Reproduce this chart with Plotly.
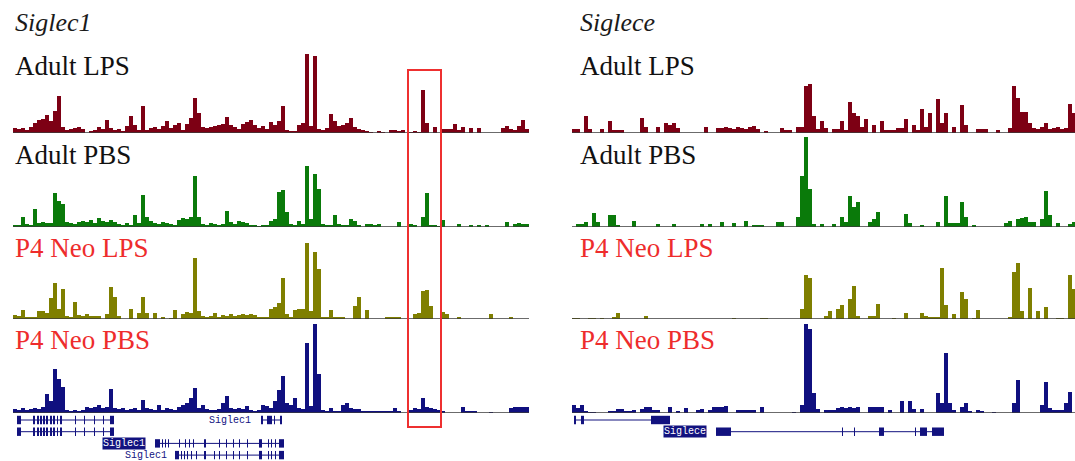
import plotly.graph_objects as go

W, H = 1075, 461
BIN = 4  # genomic units per bin

TRACK_NAMES = ["Adult LPS", "Adult PBS", "P4 Neo LPS", "P4 Neo PBS"]
TRACK_COLORS = ["#7d0014", "#0a7a0a", "#7f7f00", "#10107f"]
LABEL_COLORS = ["#111111", "#111111", "#ee2c2c", "#ee2c2c"]
PANEL_TITLES = ["Siglec1", "Siglece"]

# ---- signal tracks, Siglec1 locus (129 bins) ----
siglec1_adult_lps = [5, 4, 5, 3, 6, 10, 13, 14, 18, 12, 22, 37,
                     6, 3, 4, 5, 6, 4, 0, 2, 3, 6, 4, 13,
                     5, 3, 4, 2, 7, 17, 8, 3, 27, 3, 5, 6,
                     4, 7, 12, 5, 8, 10, 3, 9, 15, 35, 20, 6,
                     5, 6, 7, 8, 9, 16, 8, 6, 4, 9, 11, 13,
                     8, 5, 7, 4, 11, 8, 12, 27, 3, 2, 2, 8,
                     10, 79, 7, 77, 4, 3, 5, 19, 12, 7, 8, 10,
                     15, 6, 4, 3, 2, 1, 0, 2, 1, 0, 3, 3,
                     2, 3, 0, 1, 2, 1, 43, 10, 0, 6, 0, 4,
                     4, 4, 9, 3, 6, 0, 5, 0, 5, 0, 0, 0,
                     0, 0, 5, 7, 4, 3, 7, 13, 4]
siglec1_adult_pbs = [2, 2, 10, 3, 2, 18, 4, 5, 4, 4, 34, 26,
                     23, 5, 4, 3, 5, 6, 5, 7, 4, 9, 6, 5,
                     7, 5, 3, 2, 4, 2, 12, 4, 32, 10, 6, 4,
                     3, 5, 4, 3, 2, 7, 9, 8, 10, 51, 10, 3,
                     2, 4, 3, 2, 3, 16, 5, 3, 6, 5, 4, 2,
                     2, 1, 2, 2, 6, 8, 35, 37, 15, 3, 2, 6,
                     3, 61, 8, 53, 38, 3, 2, 2, 12, 3, 2, 2,
                     8, 6, 2, 0, 3, 3, 2, 3, 0, 0, 0, 0,
                     5, 0, 0, 3, 2, 0, 10, 34, 2, 2, 1, 7,
                     0, 0, 0, 3, 0, 0, 2, 0, 2, 0, 2, 0,
                     0, 0, 0, 5, 0, 3, 4, 3, 3]
siglec1_p4_lps = [4, 3, 9, 2, 2, 2, 8, 8, 6, 21, 36, 10,
                  30, 3, 2, 17, 4, 3, 5, 3, 3, 3, 0, 5,
                  32, 22, 3, 0, 0, 10, 0, 6, 22, 6, 0, 6,
                  0, 2, 0, 1, 9, 0, 5, 7, 6, 61, 8, 3,
                  2, 3, 6, 2, 4, 3, 5, 3, 4, 5, 4, 5,
                  4, 2, 2, 2, 10, 12, 16, 41, 5, 2, 9, 10,
                  10, 76, 8, 67, 50, 2, 2, 9, 2, 2, 2, 0,
                  0, 13, 22, 0, 9, 0, 0, 0, 0, 2, 2, 2,
                  2, 0, 0, 0, 5, 6, 28, 29, 13, 0, 0, 7,
                  5, 0, 0, 2, 0, 0, 0, 0, 0, 0, 0, 5,
                  0, 0, 0, 0, 2, 0, 0, 0, 0]
siglec1_p4_pbs = [4, 3, 5, 3, 4, 5, 4, 6, 19, 12, 44, 34,
                  26, 3, 2, 3, 2, 3, 6, 5, 6, 8, 5, 6,
                  24, 5, 4, 5, 3, 4, 5, 3, 13, 5, 4, 3,
                  8, 3, 5, 4, 3, 6, 8, 10, 15, 25, 5, 8,
                  4, 3, 3, 4, 10, 17, 5, 4, 5, 4, 7, 3,
                  2, 3, 8, 7, 5, 12, 23, 37, 10, 8, 15, 5,
                  4, 70, 7, 89, 39, 3, 2, 5, 2, 2, 8, 10,
                  5, 4, 4, 2, 2, 2, 2, 2, 2, 2, 2, 5,
                  2, 0, 0, 3, 5, 4, 15, 6, 5, 4, 3, 2,
                  0, 0, 0, 0, 6, 2, 2, 2, 0, 0, 0, 1,
                  0, 0, 0, 0, 5, 6, 6, 6, 6]

# ---- signal tracks, Siglece locus (126 bins) ----
siglece_adult_lps = [4, 4, 0, 17, 4, 0, 0, 4, 0, 12, 3, 3,
                     3, 0, 0, 0, 0, 15, 6, 0, 0, 6, 0, 10,
                     8, 10, 5, 0, 0, 0, 0, 0, 0, 6, 0, 0,
                     5, 5, 6, 5, 4, 6, 5, 4, 6, 7, 4, 0,
                     2, 0, 0, 0, 5, 3, 3, 0, 6, 6, 47, 49,
                     17, 4, 12, 5, 0, 4, 4, 12, 3, 31, 20, 17,
                     6, 14, 0, 8, 0, 12, 3, 3, 3, 5, 5, 14,
                     0, 8, 3, 24, 6, 20, 0, 34, 10, 20, 0, 6,
                     0, 28, 8, 0, 0, 4, 4, 4, 0, 0, 3, 0,
                     0, 5, 47, 35, 21, 21, 10, 5, 4, 6, 10, 4,
                     5, 6, 4, 5, 29, 20]
siglece_adult_pbs = [0, 3, 3, 5, 0, 14, 5, 0, 0, 12, 12, 2,
                     0, 0, 0, 6, 0, 0, 0, 0, 0, 3, 0, 0,
                     0, 3, 0, 0, 0, 0, 0, 0, 3, 0, 3, 0,
                     0, 5, 0, 0, 4, 0, 0, 6, 0, 2, 2, 2,
                     0, 0, 0, 5, 5, 0, 0, 0, 10, 51, 90, 38,
                     3, 0, 3, 0, 0, 3, 0, 10, 5, 31, 20, 25,
                     0, 0, 5, 8, 15, 0, 0, 0, 0, 0, 0, 13,
                     4, 0, 0, 2, 0, 0, 0, 5, 0, 31, 4, 4,
                     4, 25, 10, 0, 2, 0, 0, 0, 0, 0, 0, 0,
                     4, 6, 0, 8, 9, 10, 5, 5, 0, 8, 36, 12,
                     0, 4, 0, 0, 3, 5]
siglece_p4_lps = [1, 1, 0, 0, 1, 1, 0, 1, 0, 0, 2, 6,
                  0, 0, 0, 0, 0, 0, 3, 0, 0, 0, 0, 0,
                  0, 0, 0, 0, 0, 0, 0, 0, 0, 0, 0, 0,
                  0, 0, 0, 0, 1, 0, 0, 0, 0, 0, 0, 1,
                  1, 0, 0, 0, 0, 0, 0, 0, 0, 10, 44, 41,
                  0, 0, 0, 3, 8, 0, 10, 14, 0, 20, 33, 3,
                  0, 0, 3, 3, 15, 0, 0, 0, 1, 0, 0, 6,
                  0, 0, 0, 6, 3, 2, 2, 2, 51, 14, 0, 5,
                  0, 27, 20, 0, 1, 9, 0, 0, 0, 0, 0, 0,
                  0, 2, 47, 56, 8, 0, 31, 0, 8, 0, 12, 0,
                  0, 1, 1, 0, 44, 30]
siglece_p4_pbs = [8, 5, 8, 2, 1, 1, 0, 0, 0, 2, 2, 4,
                  4, 2, 2, 3, 0, 4, 6, 6, 3, 3, 0, 0,
                  6, 0, 2, 0, 5, 0, 0, 3, 4, 0, 3, 6,
                  6, 6, 7, 0, 0, 3, 3, 3, 3, 3, 0, 6,
                  0, 0, 0, 0, 0, 0, 0, 1, 0, 8, 89, 84,
                  20, 4, 0, 3, 3, 3, 5, 6, 5, 6, 5, 6,
                  0, 0, 6, 6, 6, 6, 0, 3, 0, 0, 12, 0,
                  12, 4, 0, 4, 0, 0, 0, 20, 10, 60, 10, 3,
                  0, 6, 10, 2, 0, 3, 2, 0, 0, 1, 0, 0,
                  0, 0, 10, 33, 0, 0, 0, 0, 0, 8, 31, 5,
                  3, 3, 3, 10, 21, 0]

# ---- gene models (genomic units, same scale as bins*BIN) ----
# each: (row, intron_start, intron_end, exons[(start,end)], label, label_x, highlighted)
siglec1_genes = [
    (1, 4, 101, [(4, 8), (20, 22), (24, 26), (27, 29), (30, 32), (33, 35), (37, 39), (40, 42),
                 (44, 45), (47, 49), (62, 63), (71, 72), (81, 82), (90, 91), (97, 101)], None, None, False),
    (1, 248, 269, [(248, 250), (254, 259), (261, 262), (267, 269)], "Siglec1", 217, False),
    (2, 4, 101, [(4, 8), (20, 22), (24, 26), (27, 29), (30, 32), (33, 35), (37, 39), (40, 42),
                 (44, 45), (47, 49), (62, 63), (71, 72), (81, 82), (90, 91), (97, 101)], None, None, False),
    (3, 142, 271, [(142, 147), (149, 150), (152, 153), (155, 156), (166, 167), (172, 173), (176, 177),
                   (180, 181), (191, 193), (206, 207), (213, 214), (220, 221), (226, 227), (234, 235),
                   (246, 249), (255, 256), (258, 259), (262, 263), (266, 271)], "Siglec1", 111, True),
    (4, 162, 271, [(162, 166), (168, 169), (171, 172), (174, 175), (178, 179), (183, 184), (191, 193),
                   (201, 202), (206, 207), (213, 214), (220, 221), (226, 227), (234, 235), (246, 249),
                   (255, 256), (258, 259), (262, 263), (266, 271)], "Siglec1", 133, False),
]
siglece_genes = [
    (1, 2, 98, [(2, 4), (9, 12), (79, 98)], None, None, False),
    (2, 144, 372, [(144, 159), (270, 271), (282, 283), (307, 312), (343, 344), (348, 355), (360, 372)],
     "Siglece", 113, True),
]

RED_BOX = (395, 428)  # genomic span of highlighted region in Siglec1 panel

panels = [
    dict(tracks=[siglec1_adult_lps, siglec1_adult_pbs, siglec1_p4_lps, siglec1_p4_pbs],
         genes=siglec1_genes, dom=[13 / W, 529 / W], span=516, xa="x", x_title=13, x_lab=13),
    dict(tracks=[siglece_adult_lps, siglece_adult_pbs, siglece_p4_lps, siglece_p4_pbs],
         genes=siglece_genes, dom=[572 / W, 1.0], span=503, xa="x2", x_title=578, x_lab=578),
]

BASES = [133, 227, 319, 413]
LABEL_Y = [66, 155, 248, 340]
TRACK_H = 92
GENE_NAVY = "#12127f"
GENE_TOP, GENE_ROW = 408.3, 11.7  # pixel layout of gene rows

fig = go.Figure()
layout = dict(width=W, height=H, margin=dict(l=0, r=0, t=0, b=0),
              paper_bgcolor="white", plot_bgcolor="rgba(0,0,0,0)", showlegend=False)
shapes = []
annotations = []

for p, pan in enumerate(panels):
    xkey = "xaxis" if p == 0 else "xaxis2"
    layout[xkey] = dict(domain=pan["dom"], range=[0, pan["span"]], visible=False, fixedrange=True)
    for k in range(4):
        idx = p * 4 + k + 1
        ykey = "yaxis" if idx == 1 else f"yaxis{idx}"
        yref = "y" if idx == 1 else f"y{idx}"
        layout[ykey] = dict(domain=[1 - BASES[k] / H, 1 - (BASES[k] - TRACK_H) / H],
                            range=[0, TRACK_H], visible=False, fixedrange=True)
        vals = pan["tracks"][k]
        xs = [BIN * i + BIN / 2 for i in range(len(vals))]
        fig.add_trace(go.Bar(x=xs, y=vals, width=BIN * 0.9,
                             marker=dict(color=TRACK_COLORS[k], line=dict(width=0)),
                             xaxis=pan["xa"], yaxis=yref, hoverinfo="skip"))
        shapes.append(dict(type="line", xref=pan["xa"], yref=yref, x0=0, x1=pan["span"], y0=0, y1=0,
                           line=dict(color="#3a3a3a", width=1.6)))
        annotations.append(dict(text=TRACK_NAMES[k], xref="paper", yref="paper",
                                x=pan["x_lab"] / W, y=1 - LABEL_Y[k] / H, xanchor="left", yanchor="middle",
                                showarrow=False,
                                font=dict(family="Liberation Serif", size=27, color=LABEL_COLORS[k])))
    annotations.append(dict(text=f"<i>{PANEL_TITLES[p]}</i>", xref="paper", yref="paper",
                            x=pan["x_title"] / W, y=1 - 22 / H, xanchor="left", yanchor="middle",
                            showarrow=False,
                            font=dict(family="Liberation Serif", size=26, color="#1a1a1a")))
    # gene axis: rows 1..4 mapped to pixel rows
    gidx = 9 + p
    gkey = f"yaxis{gidx}"
    gref = f"y{gidx}"
    r_top = (415 - GENE_TOP) / GENE_ROW
    r_bot = (H - GENE_TOP) / GENE_ROW
    layout[gkey] = dict(domain=[0, 1 - 415 / H], range=[r_bot, r_top], visible=False, fixedrange=True)
    for row, i0, i1, exons, label, lx, hl in pan["genes"]:
        shapes.append(dict(type="line", xref=pan["xa"], yref=gref, x0=i0, x1=i1, y0=row, y1=row,
                           line=dict(color=GENE_NAVY, width=1)))
        for e0, e1 in exons:
            shapes.append(dict(type="rect", xref=pan["xa"], yref=gref, x0=e0, x1=e1,
                               y0=row - 0.36, y1=row + 0.36, fillcolor=GENE_NAVY,
                               line=dict(width=0)))
        if label:
            annotations.append(dict(text=label, xref=pan["xa"], yref=gref, x=lx, y=row,
                                    xanchor="center", yanchor="middle", showarrow=False,
                                    bgcolor=GENE_NAVY if hl else "rgba(0,0,0,0)", borderpad=0,
                                    font=dict(family="Liberation Mono", size=10,
                                              color="white" if hl else GENE_NAVY)))

# highlight box
shapes.append(dict(type="rect", xref="x", yref="paper", x0=RED_BOX[0], x1=RED_BOX[1],
                   y0=1 - 427 / H, y1=1 - 70 / H, line=dict(color="#ee3030", width=2),
                   fillcolor="rgba(0,0,0,0)"))

layout["shapes"] = shapes
layout["annotations"] = annotations
layout["bargap"] = 0
fig.update_layout(**layout)
fig.write_html("out.html", config={"displayModeBar": False},
               post_script="document.body.style.margin='0px';")
